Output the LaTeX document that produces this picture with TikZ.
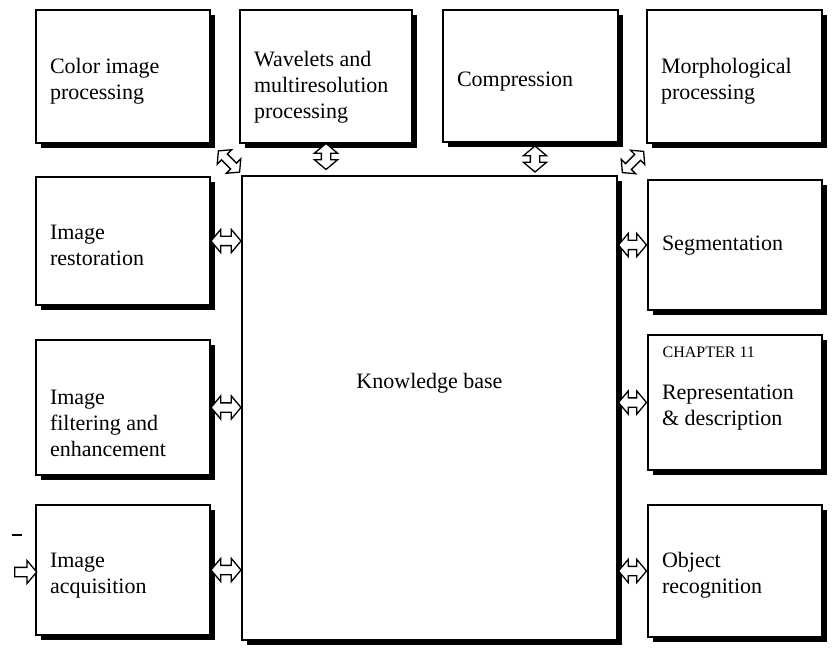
\documentclass[tikz,border=0pt]{standalone}
\usepackage{fontspec}
\setmainfont{Liberation Serif}
\usetikzlibrary{shapes.arrows,shadows,calc}
\newcommand\bxt[3][-9.5pt]{\raisebox{#1}[0pt][0pt]{\parbox{#2}{\raggedright #3}}}
\begin{document}
\begin{tikzpicture}[x=1pt,y=1pt,
  box/.style={draw, line width=1.1pt, fill=white, rectangle, inner sep=0pt,
    font=\fontsize{22}{26}\selectfont,
    drop shadow={shadow xshift=5pt, shadow yshift=-5pt, fill=black, opacity=1}},
  dbl/.style={shape=double arrow, draw, line width=1.3pt, fill=white,
    inner xsep=0pt, inner ysep=4pt, minimum width=0pt,
    double arrow head extend=7pt, double arrow tip angle=100},
  sgl/.style={shape=single arrow, draw, line width=1.3pt, fill=white,
    inner xsep=0pt, inner ysep=4pt, minimum width=0pt,
    single arrow head extend=7pt, single arrow tip angle=100}]
\useasboundingbox (0,0) rectangle (833,649);
% top row
\node[box, minimum width=174pt, minimum height=133pt] (color) at (123,572.5)
  {\bxt{146pt}{Color image\\processing}};
\node[box, minimum width=172pt, minimum height=133pt] (wav) at (326,572.5)
  {\bxt[-15.5pt]{144pt}{Wavelets and\\multiresolution\\processing}};
\node[box, minimum width=175pt, minimum height=132pt] (comp) at (530.5,573)
  {\bxt[-10.5pt]{147pt}{Compression}};
\node[box, minimum width=175pt, minimum height=133pt] (morph) at (734.5,572.5)
  {\bxt{147pt}{Morphological\\processing}};
% left column
\node[box, minimum width=174pt, minimum height=128pt] (rest) at (123,408)
  {\bxt{146pt}{Image\\restoration}};
\node[box, minimum width=174pt, minimum height=135pt] (filt) at (123,241.5)
  {\bxt[-21.5pt]{146pt}{Image\\filtering and\\enhancement}};
\node[box, minimum width=174pt, minimum height=130pt] (acq) at (123,79)
  {\bxt[-10.5pt]{146pt}{Image\\acquisition}};
% centre
\node[box, minimum width=375pt, minimum height=464pt] (kb) at (429.5,241)
  {\raisebox{20pt}[0pt][0pt]{Knowledge base}};
% right column
\node[box, minimum width=174pt, minimum height=130pt] (seg) at (735,404)
  {\bxt[-5.5pt]{146pt}{Segmentation}};
\node[box, minimum width=174pt, minimum height=135pt] (rep) at (735,246.5)
  {\bxt[-10.5pt]{146pt}{Representation\\\& description}};
\node[anchor=north west, inner sep=0pt, font=\fontsize{16}{18}\selectfont] (chap)
  at ([xshift=15pt,yshift=-12pt]rep.north west) {CHAPTER 11};
\node[box, minimum width=174pt, minimum height=132pt] (obj) at (735,78)
  {\bxt{146pt}{Object\\recognition}};
% connectors
\node[dbl, minimum height=30pt] (arest) at ($(rest.east)!0.5!(kb.west |- rest.east)$) {};
\node[dbl, minimum height=30pt] (afilt) at ($(filt.east)!0.5!(kb.west |- filt.east)$) {};
\node[dbl, minimum height=30pt] (aacq) at ($(acq.east)!0.5!(kb.west |- acq.east)$) {};
\node[dbl, minimum height=28pt] (aseg) at ($(seg.west)!0.5!(kb.east |- seg.west)$) {};
\node[dbl, minimum height=28pt] (arep) at ($(rep.west)!0.5!(kb.east |- rep.west)$) {};
\node[dbl, minimum height=28pt] (aobj) at ($(obj.west)!0.5!(kb.east |- obj.west)$) {};
\node[dbl, minimum height=26pt, rotate=90, xshift=3pt] (awav)
  at ($(wav.south)!0.5!(wav.south |- kb.north)$) {};
\node[dbl, minimum height=26pt, rotate=90] (acomp)
  at ([xshift=4.5pt]$(comp.south)!0.5!(comp.south |- kb.north)$) {};
\node[dbl, minimum height=30pt, rotate=-45, inner ysep=3.5pt, double arrow head extend=6pt] (acol)
  at ([xshift=3pt,yshift=-2pt]$(color.south east)!0.5!(kb.north west)$) {};
\node[dbl, minimum height=30pt, rotate=45, inner ysep=3.5pt, double arrow head extend=6pt] (amor)
  at ([yshift=-1pt]$(comp.south east)!0.5!(seg.north west)$) {};
% input
\coordinate (src) at (12,77);
\node[sgl, minimum height=22pt] (ain) at ($(src)!0.5!(acq.west |- src)$) {};
\draw[line width=1.5pt] (12,114) -- (22,114);
\end{tikzpicture}
\end{document}
